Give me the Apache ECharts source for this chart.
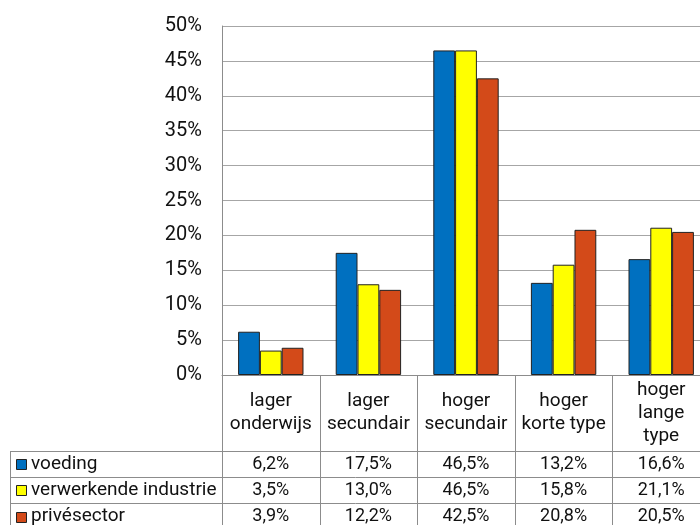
<!DOCTYPE html>
<html>
<head>
<meta charset="utf-8">
<script src="https://cdn.jsdelivr.net/npm/echarts@6/dist/echarts.min.js"></script>
<style>
html,body{margin:0;padding:0;background:#fff;}
#chart{width:700px;height:525px;}
</style>
</head>
<body>
<div id="chart"></div>
<script>
const categories = ['lager\nonderwijs', 'lager\nsecundair', 'hoger\nsecundair', 'hoger\nkorte type', 'hoger\nlange\ntype'];
const seriesNames = ['voeding', 'verwerkende industrie', 'privésector'];
const voeding = [6.2, 17.5, 46.5, 13.2, 16.6];
const verwerkende = [3.5, 13.0, 46.5, 15.8, 21.1];
const prive = [3.9, 12.2, 42.5, 20.8, 20.5];
const seriesValues = [voeding, verwerkende, prive];
const colors = ['#0070C0', '#FFFF00', '#D34A19'];
const yMin = 0, yMax = 50, yStep = 5;

const FONT = 'Roboto';
const lineColor = '#8c8c8c';
const chart = echarts.init(document.getElementById('chart'), null, {renderer: 'canvas'});

chart.setOption({
  animation: false,
  backgroundColor: '#fff',
  grid: {left: 222, width: 488, top: 26, bottom: 150, containLabel: false, outerBoundsMode: 'none'},
  xAxis: {
    type: 'category',
    data: categories,
    axisLine: {show: true, lineStyle: {color: lineColor, width: 1}},
    axisTick: {show: false},
    axisLabel: {
      interval: 0, margin: 38, verticalAlign: 'middle',
      fontFamily: FONT, fontSize: 19, lineHeight: 23, color: '#111'
    }
  },
  yAxis: {
    type: 'value', min: yMin, max: yMax, interval: yStep,
    axisLine: {show: true, lineStyle: {color: lineColor, width: 1}},
    axisTick: {show: false},
    splitLine: {show: true, lineStyle: {color: '#a6a6a6', width: 1}},
    axisLabel: {formatter: v => v + '%', fontFamily: FONT, fontSize: 20, color: '#111', margin: 20}
  },
  series: seriesValues.map((vals, i) => ({
    type: 'bar',
    name: seriesNames[i],
    data: vals,
    barGap: '0%',
    barCategoryGap: '33%',
    itemStyle: {color: colors[i], borderColor: '#222', borderWidth: 1}
  }))
});

// data table under the plot, positioned from the chart's own scales
const y0 = chart.convertToPixel({yAxisIndex: 0}, 0);
const c0 = chart.convertToPixel({xAxisIndex: 0}, 0);
const c1 = chart.convertToPixel({xAxisIndex: 0}, 1);
const bw = c1 - c0;
const leftX = c0 - bw / 2;
const rightX = leftX + bw * categories.length;
const headerH = 76, rowH = 26.2;
const tableTop = y0 + headerH;
const tableLeft = 10;
const g = [];
const ls = {stroke: lineColor, lineWidth: 1};
for (let i = 0; i <= categories.length; i++) {
  const x = Math.round(leftX + i * bw) + 0.5;
  g.push({type: 'line', shape: {x1: x, y1: y0, x2: x, y2: tableTop + rowH * 3 + 2}, style: ls, silent: true});
}
for (let r = 0; r <= 3; r++) {
  const y = Math.round(tableTop + r * rowH) + 0.5;
  g.push({type: 'line', shape: {x1: tableLeft, y1: y, x2: rightX, y2: y}, style: ls, silent: true});
}
g.push({type: 'line', shape: {x1: tableLeft + 0.5, y1: tableTop, x2: tableLeft + 0.5, y2: tableTop + rowH * 3 + 2}, style: ls, silent: true});
seriesNames.forEach((name, r) => {
  const cy = tableTop + r * rowH + rowH / 2;
  g.push({type: 'rect', shape: {x: 16.5, y: Math.round(cy - 5) + 0.5, width: 10, height: 10},
    style: {fill: colors[r], stroke: '#222', lineWidth: 1}, silent: true});
  g.push({type: 'text', x: 31, y: cy, style: {text: name, font: '19px ' + FONT, fill: '#111', textVerticalAlign: 'middle', textAlign: 'left'}, silent: true});
  seriesValues[r].forEach((v, c) => {
    const cx = chart.convertToPixel({xAxisIndex: 0}, c);
    g.push({type: 'text', x: cx, y: cy, style: {text: v.toFixed(1).replace('.', ',') + '%', font: '18px ' + FONT, fill: '#111', textAlign: 'center', textVerticalAlign: 'middle'}, silent: true});
  });
});
chart.setOption({graphic: {elements: g}});
</script>
</body>
</html>
